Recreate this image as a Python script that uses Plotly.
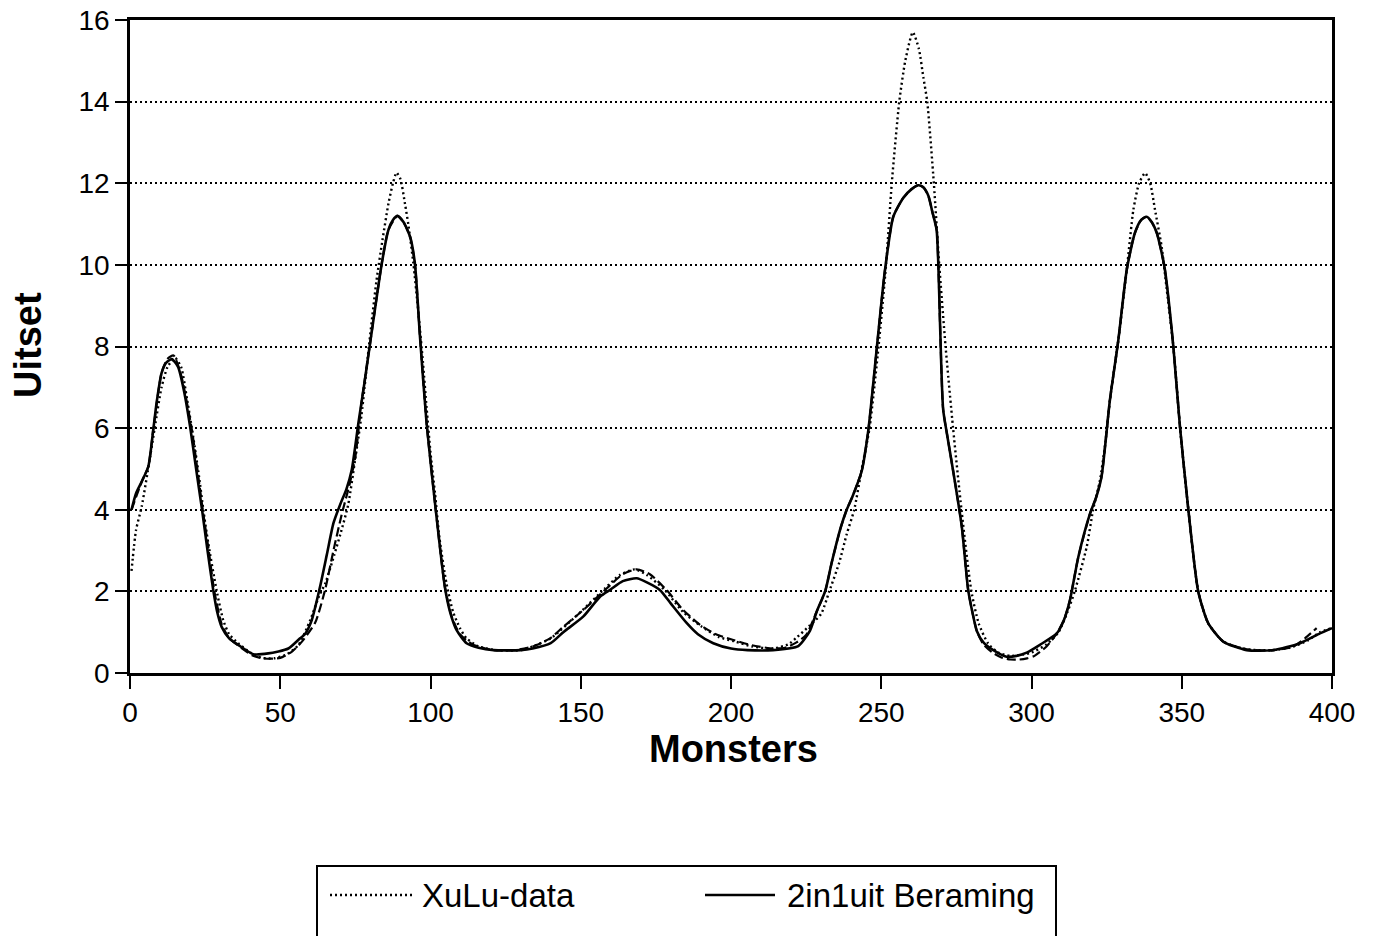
import plotly.graph_objects as go

# ---------------- data ----------------
xulu_x = [0.5, 2, 3.9, 6.7, 8.3, 10.5, 12.5, 15, 17, 19, 21, 23, 24.4, 26, 28.8, 31, 33, 36, 40, 44,
          48, 52, 56, 60, 63, 65, 68, 70, 72.6, 74.9, 77, 79.5, 82, 84, 86, 87.5, 88.7, 90, 91.5,
          92.6, 94.3, 96, 97.5, 98.7, 100, 101.5, 103, 105.3, 107.5, 109.8, 112, 116, 122, 130,
          134, 140, 150, 158, 163, 168, 172, 178, 184, 190, 196, 201, 207, 214, 219, 222, 226,
          230, 232.7, 236, 238.5, 241, 243.5, 246.1, 249.1, 251.6, 253.5, 256, 258, 260.5,
          262.5, 264, 265.3, 267.5, 269.3, 271.4, 273.9, 276.7, 280, 282.5, 285.6, 289, 293,
          297, 300, 305, 309, 312, 314.5, 318.4, 320.5, 322.8, 324.5, 326.1, 328.9, 331.7,
          333.9, 335.8, 337.8, 339.5, 341.1, 343.3, 345, 347.2, 349.4, 352.2, 355.5, 358.8,
          363.8, 371.6, 380, 386, 392, 396, 400]
xulu_y = [2.5, 3.5, 4.08, 5.3, 6.04, 7.0, 7.5, 7.72, 7.5, 6.7, 5.8, 4.8, 4.0, 3.2, 2.03, 1.3, 0.95,
          0.73, 0.5, 0.37, 0.36, 0.45, 0.68, 1.3, 1.9, 2.2, 2.9, 3.4, 4.12, 5.22, 6.3, 8.0, 9.6,
          10.6, 11.5, 12.0, 12.26, 12.1, 11.5, 11.0, 10.04, 8.8, 7.6, 6.5, 5.4, 4.4, 3.3, 2.2,
          1.5, 1.1, 0.85, 0.65, 0.56, 0.56, 0.65, 0.85, 1.5, 2.07, 2.4, 2.54, 2.4, 2.03, 1.5,
          1.15, 0.88, 0.78, 0.65, 0.6, 0.7, 0.88, 1.15, 1.45, 2.0, 2.7, 3.4, 4.0, 5.0, 6.0,
          8.0, 10.0, 12.0, 14.0, 15.0, 15.7, 15.3, 14.6, 14.0, 12.0, 10.0, 8.0, 6.0, 4.0, 2.0,
          1.2, 0.72, 0.5, 0.42, 0.45, 0.5, 0.7, 1.0, 1.5, 2.03, 3.1, 4.0, 4.73, 5.6, 6.69,
          8.16, 9.88, 11.35, 12.0, 12.25, 12.0, 11.35, 10.45, 9.4, 8.0, 6.04, 4.0, 1.99, 1.22,
          0.77, 0.58, 0.56, 0.62, 0.8, 1.0, 1.1]

beraming_x = [0.5, 2, 3.9, 6.1, 7.8, 9, 10.5, 12, 13.9, 16, 18, 20, 22, 23.9, 25.8, 27.7, 29, 30.5,
              33, 36, 41, 46, 52.7, 56.6, 58.2, 60.5, 63.2, 65.5, 67.7, 69.9, 72, 73.8, 76, 78,
              79.9, 83.8, 86, 87.5, 89, 91, 93.2, 94.8, 96.5, 98.7, 101.5, 104.8, 106.5, 108.7,
              112, 116, 121, 130, 134, 140, 144.2, 150.8, 156.4, 160, 164, 168.6, 172, 176.4,
              180, 185.3, 189, 194.1, 200, 205.5, 214, 222.4, 226.3, 228.5, 231.4, 233.5, 236.5,
              238.5, 240.4, 243.5, 245.7, 248.5, 251.2, 254, 257.3, 260, 262.3, 264, 265.7, 267,
              268.4, 269, 269.5, 270.6, 272, 274, 276.8, 278.9, 280.3, 281.8, 284, 287.3, 291.7,
              295, 298.4, 302.8, 308.4, 310.8, 312.8, 315.6, 319.5, 321.5, 323.3, 326.1, 328.9,
              331.7, 334.4, 336.5, 338.3, 340, 341.7, 343, 344.4, 347.2, 349.4, 352.2, 355.5,
              358.8, 363.8, 371.6, 380.5, 389.4, 396, 400]
beraming_y = [4.0, 4.4, 4.69, 5.06, 6.0, 6.7, 7.35, 7.6, 7.69, 7.5, 6.9, 6.04, 5.0, 4.04, 3.0, 2.03,
              1.5, 1.13, 0.85, 0.69, 0.46, 0.48, 0.6, 0.85, 0.95, 1.3, 2.1, 2.9, 3.67, 4.12, 4.5,
              4.98, 6.12, 7.1, 8.08, 10.04, 10.86, 11.1, 11.2, 11.05, 10.69, 10.04, 8.24, 6.12,
              4.16, 2.1, 1.5, 1.05, 0.73, 0.62, 0.56, 0.56, 0.6, 0.73, 1.0, 1.38, 1.87, 2.05,
              2.25, 2.32, 2.22, 2.03, 1.7, 1.22, 0.95, 0.73, 0.6, 0.56, 0.56, 0.66, 1.04, 1.5,
              2.02, 2.7, 3.56, 4.0, 4.32, 4.95, 5.95, 7.95, 9.85, 11.18, 11.64, 11.85, 11.95,
              11.9, 11.69, 11.3, 10.87, 10.0, 8.72, 6.46, 5.8, 4.92, 3.59, 2.05, 1.5, 1.03, 0.75,
              0.56, 0.4, 0.42, 0.5, 0.69, 0.97, 1.3, 1.79, 2.85, 3.91, 4.3, 4.81, 6.69, 8.16,
              9.88, 10.78, 11.1, 11.18, 11.05, 10.78, 10.4, 9.88, 8.0, 6.04, 4.0, 1.99, 1.22,
              0.77, 0.56, 0.56, 0.73, 0.97, 1.1]

model_x = [0.5, 3.9, 6.1, 7.8, 10.5, 12.5, 14.5, 17, 20.5, 22.4, 24.2, 26.2, 28, 30.5, 33, 37, 41,
           44, 47, 50, 53.8, 57, 61.6, 64.9, 67.7, 70.5, 73, 75, 77, 79.9, 83.8, 86, 89, 91,
           93.2, 94.8, 96.5, 98.7, 101.5, 104.8, 107, 109.8, 114, 121, 128, 134, 139.8, 144.2,
           150.8, 158.6, 164, 168.6, 173, 178.6, 184, 189.7, 195, 200.8, 207, 214, 218, 221.8,
           225, 228.5, 231.4, 233.5, 236.5, 238.5, 240.4, 243.5, 245.7, 248.5, 251.2, 254,
           257.3, 260, 262.3, 264, 265.7, 267, 268.4, 269, 269.5, 270.6, 272, 274, 276.8,
           278.9, 280.3, 281.8, 284, 287, 290, 293, 296, 298.5, 301, 305, 308.4, 310.8, 312.8,
           315.6, 319.5, 321.5, 323.3, 326.1, 328.9, 331.7, 334.4, 336.5, 338.3, 340, 341.7,
           343, 344.4, 347.2, 349.4, 352.2, 355.5, 358.8, 363.8, 371.6, 380.5, 387.1, 391, 394.9]
model_y = [4.0, 4.69, 5.06, 6.0, 7.35, 7.7, 7.78, 7.3, 6.0, 5.0, 4.0, 3.0, 2.03, 1.2, 0.85, 0.62,
           0.42, 0.36, 0.35, 0.37, 0.52, 0.75, 1.23, 2.03, 3.0, 3.9, 4.6, 5.3, 6.6, 8.08, 10.04,
           10.86, 11.2, 11.05, 10.69, 10.04, 8.24, 6.12, 4.16, 2.1, 1.4, 0.95, 0.7, 0.56, 0.56,
           0.65, 0.85, 1.13, 1.54, 2.07, 2.42, 2.54, 2.42, 2.03, 1.55, 1.18, 0.95, 0.81, 0.68,
           0.6, 0.62, 0.75, 0.93, 1.5, 2.02, 2.7, 3.56, 4.0, 4.32, 4.95, 5.95, 7.95, 9.85,
           11.18, 11.64, 11.85, 11.95, 11.9, 11.69, 11.3, 10.87, 10.0, 8.72, 6.46, 5.8, 4.92,
           3.59, 2.05, 1.5, 1.03, 0.7, 0.5, 0.38, 0.33, 0.33, 0.36, 0.42, 0.65, 0.97, 1.3,
           1.79, 2.85, 3.91, 4.3, 4.81, 6.69, 8.16, 9.88, 10.78, 11.1, 11.18, 11.05, 10.78,
           10.4, 9.88, 8.0, 6.04, 4.0, 1.99, 1.22, 0.77, 0.58, 0.56, 0.65, 0.85, 1.1]

x_ticks = [0, 50, 100, 150, 200, 250, 300, 350, 400]
y_ticks = [0, 2, 4, 6, 8, 10, 12, 14, 16]
series_names = ["XuLu-data", "2in1uit Beraming", "2in1uit Model"]
x_title = "Monsters"
y_title = "Uitset"

# ---------------- figure ----------------
W, H = 1375, 936
L, R, T, B = 130, 43, 20, 263
pw, ph = W - L - R, H - T - B

def px_to_paper_x(px):
    return (px - L) / pw

def px_to_paper_y(py):
    return (H - B - py) / ph

FONT = "Liberation Sans, Arial, sans-serif"
DOT = "2px,3px"
DASH = "9px,4px"

fig = go.Figure()
fig.add_trace(go.Scatter(x=model_x, y=model_y, mode="lines", name=series_names[2],
                         line=dict(color="black", width=2.2, dash=DASH, shape="spline", smoothing=0.6),
                         showlegend=False))
fig.add_trace(go.Scatter(x=beraming_x, y=beraming_y, mode="lines", name=series_names[1],
                         line=dict(color="black", width=2.6, shape="spline", smoothing=0.6),
                         showlegend=False))
fig.add_trace(go.Scatter(x=xulu_x, y=xulu_y, mode="lines", name=series_names[0],
                         line=dict(color="black", width=2.4, dash=DOT, shape="spline", smoothing=0.6),
                         showlegend=False))

fig.update_layout(
    width=W, height=H,
    margin=dict(l=L, r=R, t=T, b=B, autoexpand=False),
    paper_bgcolor="white", plot_bgcolor="white",
    font=dict(family=FONT, color="black", size=28),
    showlegend=False,
)
fig.update_xaxes(
    range=[0, 400], tickvals=x_ticks, ticktext=[str(v) for v in x_ticks],
    showgrid=False, zeroline=False,
    showline=True, linecolor="black", linewidth=2.5, mirror=True,
    ticks="outside", ticklen=13, tickwidth=2, tickcolor="black",
    tickfont=dict(size=28, family=FONT), automargin=False,
)
fig.update_yaxes(
    range=[0, 16], tickvals=y_ticks, ticktext=[str(v) for v in y_ticks],
    showgrid=True, gridcolor="black", gridwidth=2, griddash=DOT,
    zeroline=False,
    showline=True, linecolor="black", linewidth=2.5, mirror=True,
    ticks="outside", ticklen=12, tickwidth=2, tickcolor="black",
    tickfont=dict(size=28, family=FONT), automargin=False,
)

# axis titles
fig.add_annotation(text=f"<b>{x_title}</b>", xref="paper", yref="paper",
                   x=px_to_paper_x(733), y=px_to_paper_y(749), showarrow=False,
                   font=dict(size=38, family=FONT), xanchor="center", yanchor="middle")
fig.add_annotation(text=f"<b>{y_title}</b>", xref="paper", yref="paper",
                   x=px_to_paper_x(28), y=px_to_paper_y(345), showarrow=False, textangle=-90,
                   font=dict(size=38, family=FONT), xanchor="center", yanchor="middle")

# legend box (drawn manually, partly below the page edge as in the reference)
fig.add_shape(type="rect", xref="paper", yref="paper",
              x0=px_to_paper_x(317), x1=px_to_paper_x(1056),
              y0=px_to_paper_y(1010), y1=px_to_paper_y(866),
              line=dict(color="black", width=2), fillcolor="white", layer="above")
legend_rows = [
    (330, 412, 420, 895, DOT, series_names[0]),
    (705, 775, 785, 895, "solid", series_names[1]),
]
for sx0, sx1, tx, ty, dash, name in legend_rows:
    fig.add_shape(type="line", xref="paper", yref="paper",
                  x0=px_to_paper_x(sx0), x1=px_to_paper_x(sx1),
                  y0=px_to_paper_y(ty), y1=px_to_paper_y(ty),
                  line=dict(color="black", width=2.4, dash=dash), layer="above")
    fig.add_annotation(text=name, xref="paper", yref="paper",
                       x=px_to_paper_x(tx), y=px_to_paper_y(ty), showarrow=False,
                       xanchor="left", yanchor="middle", font=dict(size=33, family=FONT))

fig.write_html("out.html", config={"displayModeBar": False},
               post_script="document.body.style.margin='0';document.body.style.overflow='hidden';")
